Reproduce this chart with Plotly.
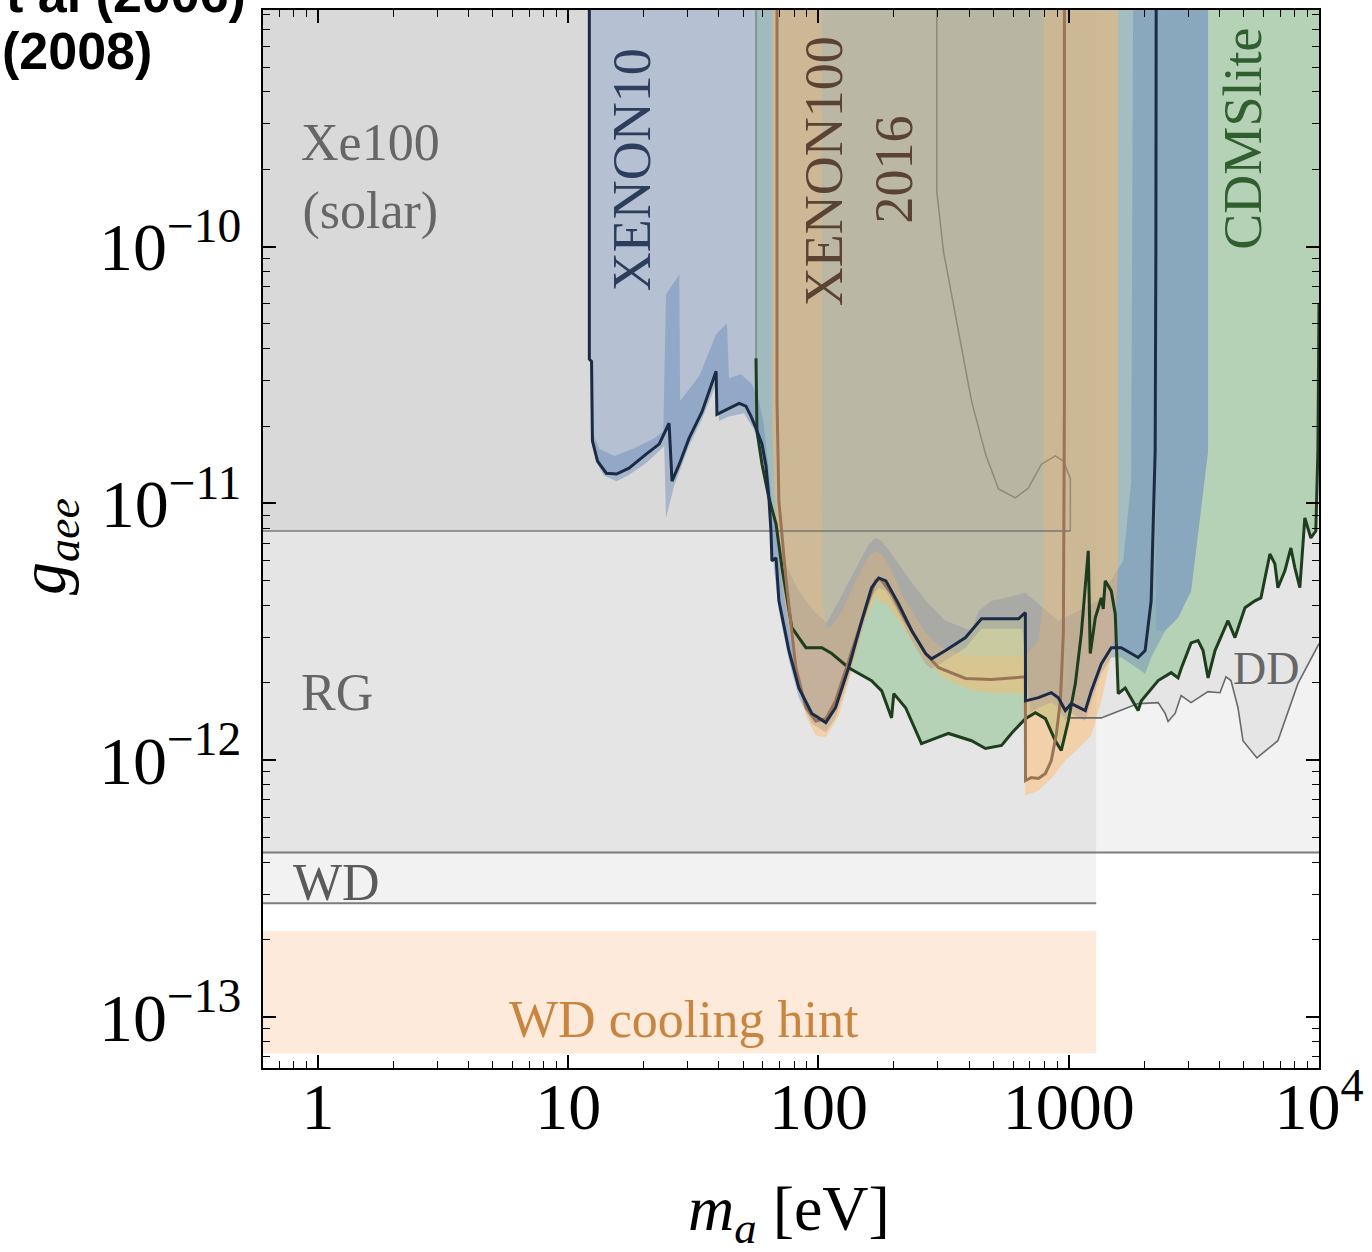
import numpy as np
import plotly.graph_objects as go

TOP = 1e-9          # coupling above the plotted window (closes regions)
M_LEFT, M_RIGHT = 0.3, 2e4

# ---------------- astrophysical bounds ----------------
rg_g = 4.37e-13
wd_g = 2.77e-13
solar_g = 7.8e-12
solar_m_max = 1015
wd_m_max = 1288
wd_hint_lo, wd_hint_hi = 7.2e-14, 2.16e-13

# Xe100 solar bound at higher masses (thin curve)
solhi_m = [297, 297, 316, 363, 409, 465, 524, 612, 690, 778, 884, 952, 1015, 1015]
solhi_g = [1e-9, 1.64e-10, 9.56e-11, 4.67e-11, 2.50e-11, 1.555e-11, 1.137e-11,
           1.049e-11, 1.147e-11, 1.42e-11, 1.53e-11, 1.46e-11, 1.25e-11, 7.8e-12]

# DD bound
dd_m = [1015, 1349, 1534, 1894, 2277, 2428, 2495, 2661, 2812, 3082,
        3603, 4022, 4250, 4450, 4746, 4969, 5649, 6850, 8233, 10000]
dd_g = [1.46e-12, 1.46e-12, 1.531e-12, 1.66e-12, 1.675e-12, 1.52e-12, 1.413e-12, 1.52e-12, 1.783e-12, 1.675e-12,
        1.848e-12, 1.83e-12, 2.11e-12, 2.04e-12, 1.60e-12, 1.19e-12, 1.02e-12, 1.19e-12, 1.985e-12, 2.84e-12]

# ---------------- XENON10 limit ----------------
x10_m = [12.15, 12.15, 12.4, 12.5, 13.1, 14.2, 15.6, 17.5, 20.5, 23.1,
         25.3, 26.0, 27.8, 30.4, 34.3, 39.0, 39.3, 43.9, 48.2, 51.3,
         53.8, 56.3, 59.5, 61.7, 63.4, 64.6, 65.2, 67.7, 69.5, 76.2,
         83.5, 94.1, 107, 117, 132, 149, 163, 174, 186, 209,
         236, 268, 283, 322, 387, 448, 524, 630, 671, 672,
         757, 852, 909, 969, 1024, 1165, 1231, 1349, 1479, 1621,
         1894, 2020, 2135, 2175, 2215, 2230, 2236]
x10_g = [1e-9, 3.64e-11, 3.57e-11, 1.75e-11, 1.46e-11, 1.31e-11, 1.30e-11, 1.37e-11, 1.555e-11, 1.70e-11,
         2.05e-11, 1.22e-11, 1.42e-11, 1.79e-11, 2.28e-11, 3.27e-11, 2.22e-11, 2.35e-11, 2.45e-11, 2.39e-11,
         2.18e-11, 1.96e-11, 1.70e-11, 1.40e-11, 1.049e-11, 7.8e-12, 5.97e-12, 6.13e-12, 4.17e-12, 2.67e-12,
         1.91e-12, 1.52e-12, 1.40e-12, 1.60e-12, 2.29e-12, 3.49e-12, 4.69e-12, 5.12e-12, 4.99e-12, 4.06e-12,
         3.19e-12, 2.60e-12, 2.48e-12, 2.67e-12, 3.00e-12, 3.55e-12, 3.55e-12, 3.55e-12, 3.75e-12, 1.70e-12,
         1.75e-12, 1.83e-12, 1.75e-12, 1.56e-12, 1.66e-12, 1.56e-12, 1.86e-12, 2.37e-12, 2.74e-12, 2.74e-12,
         2.51e-12, 2.67e-12, 4.17e-12, 8.77e-12, 1.60e-11, 1.0e-10, 1e-9]

# XENON10 uncertainty band: upper edge (incl. top & right side), lower edge
x10_band_up_m = [12.5, 13.3, 15.3, 18.4, 22.1, 24.0, 24.6, 27.8, 28.0, 33.4,
                 39.0, 43.1, 43.9, 49.0, 54.3, 57.9, 60.6, 63.4, 66.4, 72.8,
                 83.5, 95.9, 108.0, 120.6, 141.0, 158.9, 169, 179, 196, 223,
                 268, 322, 409, 436, 491, 559, 671, 909, 1312, 1651,
                 1777, 1810, 3603, 3603, 3287, 3082, 2735, 2428, 2135, 2020]
x10_band_up_g = [1.91e-11, 1.63e-11, 1.53e-11, 1.64e-11, 1.79e-11, 1.91e-11, 6.51e-11, 7.78e-11, 2.50e-11, 3.13e-11,
                 4.55e-11, 5.02e-11, 3.07e-11, 3.18e-11, 2.91e-11, 2.50e-11, 2.00e-11, 1.335e-11, 8.53e-12, 5.97e-12,
                 4.56e-12, 3.81e-12, 3.42e-12, 4.17e-12, 5.61e-12, 6.95e-12, 7.33e-12, 7.14e-12, 6.35e-12, 5.31e-12,
                 4.17e-12, 3.49e-12, 3.19e-12, 3.81e-12, 4.17e-12, 4.28e-12, 4.48e-12, 3.49e-12, 4.17e-12, 5.97e-12,
                 1.22e-11, 1e-9, 1e-9, 1.60e-11, 7.60e-12, 4.56e-12, 3.58e-12, 3.19e-12, 2.51e-12, 2.17e-12]
x10_band_lo_m = [12.5, 13.0, 13.9, 15.6, 17.5, 20.5, 23.1, 24.2, 24.6, 26.5,
                 30.4, 34.3, 39.0, 40.1, 43.9, 50.4, 55.3, 58.9, 62.3, 66.4,
                 69.5, 76.2, 83.5, 94.1, 107, 117, 132, 149, 163, 174,
                 186, 209, 236, 268, 283, 322, 387, 448, 524, 653,
                 703, 757, 852, 909, 969, 1024, 1165, 1231, 1349, 1479,
                 1621, 1894]
x10_band_lo_g = [1.67e-11, 1.435e-11, 1.28e-11, 1.22e-11, 1.29e-11, 1.435e-11, 1.60e-11, 1.67e-11, 8.77e-12, 1.167e-11,
                 1.67e-11, 2.13e-11, 2.91e-11, 2.09e-11, 2.18e-11, 2.24e-11, 1.94e-11, 1.60e-11, 1.22e-11, 5.56e-12,
                 3.81e-12, 2.44e-12, 1.75e-12, 1.388e-12, 1.28e-12, 1.46e-12, 2.09e-12, 3.19e-12, 4.28e-12, 4.69e-12,
                 4.56e-12, 3.71e-12, 2.92e-12, 2.37e-12, 2.27e-12, 2.44e-12, 2.74e-12, 3.25e-12, 3.25e-12, 3.25e-12,
                 1.531e-12, 1.60e-12, 1.675e-12, 1.60e-12, 1.42e-12, 1.52e-12, 1.42e-12, 1.70e-12, 2.17e-12, 2.51e-12,
                 2.51e-12, 2.27e-12]

# ---------------- XENON100 (2016) limit ----------------
x100_m = [68.3, 68.3, 69.5, 74.1, 81.2, 89.1, 97.6, 107, 117, 132,
          155, 169, 177, 196, 223, 268, 302, 387, 491, 671,
          672, 709, 757, 807, 852, 893, 926, 952, 961, 961]
x100_g = [1e-9, 2.5e-11, 1.02e-11, 5.12e-12, 2.29e-12, 1.60e-12, 1.42e-12, 1.45e-12, 1.70e-12, 2.44e-12,
          3.92e-12, 4.99e-12, 5.08e-12, 4.44e-12, 3.49e-12, 2.60e-12, 2.29e-12, 2.08e-12, 2.06e-12, 2.11e-12,
          8.33e-13, 8.56e-13, 8.48e-13, 8.87e-13, 9.96e-13, 1.27e-12, 1.70e-12, 3.11e-12, 2.50e-11, 1e-9]

# XENON100 band: outer edge and inner edge
x100_band_out_m = [65.2, 65.2, 67.0, 69.5, 74.1, 81.2, 89.1, 97.6, 107, 120.6,
                   135.9, 153.1, 169, 190.9, 223, 268, 331, 417, 524, 659,
                   671, 757, 852, 969, 1092, 1231, 1349, 1465, 1534, 1577, 1577]
x100_band_out_g = [1e-9, 2.09e-11, 1.02e-11, 5.97e-12, 3.81e-12, 2.19e-12, 1.49e-12, 1.246e-12, 1.224e-12, 1.49e-12,
                   2.23e-12, 3.49e-12, 4.28e-12, 3.99e-12, 3.19e-12, 2.39e-12, 2.04e-12, 1.86e-12, 1.815e-12, 1.815e-12,
                   7.28e-13, 7.62e-13, 8.48e-13, 9.96e-13, 1.11e-12, 1.246e-12, 1.70e-12, 2.44e-12, 3.19e-12, 5.97e-12, 1e-9]
x100_band_in_m = [103.2, 103.2, 104.1, 108.0, 113, 124.0, 141.0, 158.9, 169, 179,
                  196, 223, 268, 302, 387, 491, 671, 757, 792, 792]
x100_band_in_g = [1e-9, 1.02e-11, 4.17e-12, 3.28e-12, 3.33e-12, 3.81e-12, 4.99e-12, 6.24e-12, 6.53e-12, 6.35e-12,
                  5.46e-12, 4.17e-12, 3.13e-12, 2.79e-12, 2.55e-12, 2.55e-12, 2.55e-12, 2.92e-12, 4.17e-12, 1e-9]

# ---------------- CDMSlite limit ----------------
cdms_m = [56.3, 56.3, 56.8, 59.5, 63.4, 67.7, 71.5, 78.3, 89.1, 103.2,
          113, 132, 163, 179, 196, 200, 223, 258, 331, 409,
          465, 539, 590, 671, 736, 807, 884, 934, 996, 1063,
          1123, 1197, 1219, 1277, 1349, 1374, 1399, 1479, 1534, 1577,
          1681, 1894, 1948, 2277, 2566, 2735, 2812, 3082, 3287, 3441,
          3603, 3842, 4329, 4616, 5060, 5546, 5861, 6365, 6664, 6850,
          7305, 7720, 8009, 8385, 8778, 9276, 9710, 9900, 10000]
cdms_g = [1e-9, 3.67e-11, 1.91e-11, 1.42e-11, 1.049e-11, 8.31e-12, 5.61e-12, 3.28e-12, 2.74e-12, 2.74e-12,
          2.60e-12, 2.29e-12, 2.04e-12, 1.86e-12, 1.46e-12, 1.815e-12, 1.60e-12, 1.16e-12, 1.27e-12, 1.19e-12,
          1.11e-12, 1.14e-12, 1.27e-12, 1.45e-12, 1.53e-12, 1.45e-12, 1.19e-12, 1.09e-12, 1.42e-12, 1.985e-12,
          3.11e-12, 6.53e-12, 2.60e-12, 3.58e-12, 4.28e-12, 3.88e-12, 4.99e-12, 4.56e-12, 3.71e-12, 1.815e-12,
          1.91e-12, 1.56e-12, 1.70e-12, 2.04e-12, 2.19e-12, 2.09e-12, 2.27e-12, 2.86e-12, 2.92e-12, 2.67e-12,
          2.09e-12, 2.67e-12, 3.49e-12, 3.00e-12, 3.92e-12, 4.17e-12, 4.28e-12, 6.35e-12, 5.81e-12, 4.69e-12,
          5.46e-12, 6.70e-12, 5.61e-12, 4.69e-12, 8.77e-12, 7.33e-12, 7.80e-12, 1.60e-11, 6e-11]

# ---------------- ticks ----------------
x_ticks = [1, 10, 100, 1000, 10000]
x_ticktext = ["1", "10", "100", "1000", "10<sup>4</sup>"]
y_ticks = [1e-13, 1e-12, 1e-11, 1e-10]
y_ticktext = ["10<sup>\u221213</sup>", "10<sup>\u221212</sup>", "10<sup>\u221211</sup>", "10<sup>\u221210</sup>"]
x_minor = [k * 10.0 ** d for d in range(-1, 4) for k in range(2, 10)]
y_minor = [k * 10.0 ** d for d in range(-14, -9) for k in range(2, 10)]

SERIF = "Liberation Serif"
fig = go.Figure()


def region(m, g, color):
    fig.add_trace(go.Scatter(x=list(m), y=list(g), mode="lines", fill="toself", fillcolor=color,
                             line=dict(width=0), hoverinfo="skip", showlegend=False))


def curve(m, g, color, width):
    fig.add_trace(go.Scatter(x=list(m), y=list(g), mode="lines", line=dict(color=color, width=width),
                             hoverinfo="skip", showlegend=False))


GRAY = "rgba(0,0,0,0.05)"
BLUE_FILL = "rgba(146,168,204,0.5)"
# gray astrophysical regions
region([M_LEFT, M_RIGHT, M_RIGHT, M_LEFT], [rg_g, rg_g, TOP, TOP], GRAY)
region([M_LEFT, wd_m_max, wd_m_max, M_LEFT], [wd_g, wd_g, TOP, TOP], GRAY)
region([M_LEFT, solar_m_max, solar_m_max, M_LEFT], [solar_g, solar_g, TOP, TOP], GRAY)
region(solhi_m[:-1] + [solhi_m[-1]], solhi_g[:-1] + [TOP], GRAY)
region(dd_m + [M_RIGHT, M_RIGHT, dd_m[0]], dd_g + [dd_g[-1], TOP, TOP], GRAY)
# WD cooling hint
region([M_LEFT, wd_m_max, wd_m_max, M_LEFT], [wd_hint_lo, wd_hint_lo, wd_hint_hi, wd_hint_hi],
       "rgba(251,196,150,0.35)")

# CDMSlite region
region(cdms_m + [M_RIGHT, M_RIGHT], cdms_g + [cdms_g[-1], TOP], "rgba(136,192,136,0.5)")
# XENON10 region
region(x10_m, x10_g, BLUE_FILL)
# XENON10 region beyond the last vertical edge, bounded by the band's right side
m_edge = x10_m[-1]
right_m = [m for m in x10_band_up_m[42:48] if m > m_edge]
right_g = [g for m, g in zip(x10_band_up_m[42:48], x10_band_up_g[42:48]) if m > m_edge]
region([m_edge] + right_m + [m_edge], [TOP] + right_g + [right_g[-1]], BLUE_FILL)
# XENON10 band
region(x10_band_up_m + x10_band_lo_m[::-1], x10_band_up_g + x10_band_lo_g[::-1], "rgba(105,140,185,0.45)")
# XENON100 central region and band
region(x100_band_in_m, x100_band_in_g, "rgba(255,182,100,0.27)")
region(x100_band_out_m + x100_band_in_m[::-1], x100_band_out_g + x100_band_in_g[::-1], "rgba(255,182,100,0.46)")

# boundary lines
curve([M_LEFT, solar_m_max], [solar_g, solar_g], "rgba(110,110,110,0.9)", 1.6)
curve([M_LEFT, M_RIGHT], [rg_g, rg_g], "rgba(110,110,110,0.9)", 2)
curve([M_LEFT, wd_m_max], [wd_g, wd_g], "rgba(110,110,110,0.9)", 2)
curve(solhi_m, solhi_g, "rgba(110,110,90,0.6)", 1.5)
curve(dd_m, dd_g, "#6a6a6a", 1.6)
curve(cdms_m[:2], cdms_g[:2], "rgba(50,90,70,0.6)", 1.2)
curve(cdms_m[1:], cdms_g[1:], "#1d3d1d", 3)
curve(x100_m, x100_g, "#9a7456", 3)
curve(x10_m, x10_g, "#1b2a45", 3)

# ---------------- labels ----------------
labels = [
    ("Xe100<br>(solar)", 1.62, 1.86e-10, "#666666", 52, 0),
    ("RG", 1.19, 1.83e-12, "#666666", 52, 0),
    ("WD", 1.19, 3.34e-13, "#5a5a5a", 52, 0),
    ("DD", 6137, 2.27e-12, "#666666", 46, 0),
    ("WD cooling hint", 29.1, 9.73e-14, "#c8853f", 52, 0),
    ("XENON10", 17.9, 1.99e-10, "#2c3e5c", 54, -90),
    ("XENON100", 106, 1.96e-10, "#5a4332", 54, -90),
    ("2016", 200, 1.99e-10, "#5a4332", 54, -90),
    ("CDMSlite", 4969, 2.63e-10, "#2f5f2f", 54, -90),
]
for txt, m, g, col, size, ang in labels:
    fig.add_annotation(x=np.log10(m), y=np.log10(g), text=txt, showarrow=False, textangle=ang,
                       font=dict(family=SERIF, size=size, color=col), xanchor="center", yanchor="middle")

# axis titles
fig.add_annotation(xref="paper", yref="paper", x=0.498, y=-0.137, text="<i>m</i><sub><i>a</i></sub> [eV]",
                   showarrow=False, font=dict(family=SERIF, size=64, color="black"),
                   xanchor="center", yanchor="middle")
fig.add_annotation(xref="paper", yref="paper", x=-0.204, y=0.493, text="<i>g</i><sub><i>aee</i></sub>",
                   showarrow=False, textangle=-90, font=dict(family=SERIF, size=66, color="black"),
                   xanchor="center", yanchor="middle")
# cropped header text
fig.add_annotation(xref="paper", yref="paper", x=-0.0142, y=1.0151, text="<b>t al (2006)</b>",
                   showarrow=False, font=dict(family="Liberation Sans", size=52, color="black"),
                   xanchor="right", yanchor="middle")
fig.add_annotation(xref="paper", yref="paper", x=-0.2486, y=0.9613, text="<b>(2008)</b>",
                   showarrow=False, font=dict(family="Liberation Sans", size=52, color="black"),
                   xanchor="left", yanchor="middle")

axis_common = dict(type="log", showgrid=False, zeroline=False, showline=True, linecolor="black",
                   linewidth=2, mirror="ticks", ticks="inside", ticklen=13, tickwidth=1.5,
                   tickcolor="black")
fig.update_xaxes(range=[-0.2193, 4.0], tickmode="array", tickvals=x_ticks, ticktext=x_ticktext,
                 ticklabelstandoff=-20, tickfont=dict(family=SERIF, size=66, color="black"),
                 minor=dict(tickmode="array", tickvals=x_minor, ticks="inside", ticklen=7,
                            tickwidth=1.2, tickcolor="black", showgrid=False),
                 **axis_common)
fig.update_yaxes(range=[-13.199, -9.079], tickmode="array", tickvals=y_ticks, ticktext=y_ticktext,
                 ticklabelstandoff=6, tickfont=dict(family=SERIF, size=68, color="black"),
                 minor=dict(tickmode="array", tickvals=y_minor, ticks="inside", ticklen=7,
                            tickwidth=1.2, tickcolor="black", showgrid=False),
                 **axis_common)

fig.update_layout(width=1372, height=1252, autosize=False,
                  margin=dict(l=263, r=51, t=8, b=184),
                  plot_bgcolor="white", paper_bgcolor="white", showlegend=False)

fig.write_html("out.html")
